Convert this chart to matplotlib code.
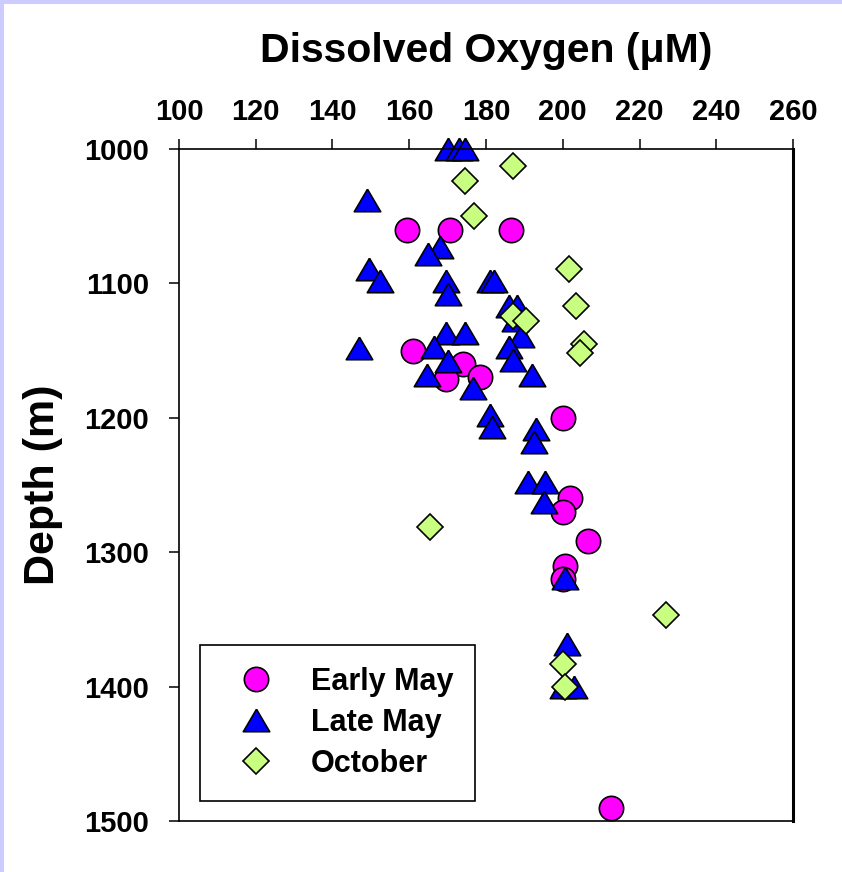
import matplotlib
matplotlib.use("Agg")
import matplotlib.pyplot as plt
from matplotlib.patches import Rectangle

plt.rcParams['font.family'] = ['Liberation Sans', 'DejaVu Sans']
plt.rcParams['font.weight'] = 'bold'

# dissolved oxygen (uM) against depth (m) for the three cruises
early_may_do = [159.5, 170.5, 186.5, 161, 174, 169.5, 178.5, 200, 202, 200,
                206.5, 200.5, 200, 212.5]
early_may_depth = [1060, 1060, 1060, 1150, 1160, 1171, 1170, 1200, 1260, 1270,
                   1292, 1310, 1320, 1490]

late_may_do = [170, 173, 174.5, 149, 168, 165, 149.5, 152.5, 169.5, 181,
               182, 170, 186, 188, 187.5, 169.5, 174.5, 189, 147, 166.5,
               186, 170, 187, 164.5, 192, 176.5, 181, 181.5, 193, 192.5,
               191, 195.5, 195, 200.5, 201, 200, 203]
late_may_depth = [1000, 1000, 1000, 1038, 1073, 1078, 1089, 1098, 1098, 1098,
                  1098, 1108, 1117, 1117, 1127, 1137, 1137, 1139, 1148, 1147,
                  1147, 1158, 1157, 1168, 1168, 1178, 1198, 1207, 1208, 1218,
                  1248, 1248, 1263, 1319, 1368, 1400, 1400]

october_do = [187, 174.5, 177, 201.5, 203.5, 187, 190.5, 205.5, 204.5, 165.5,
              227, 200, 200.5]
october_depth = [1013, 1024, 1050, 1089, 1117, 1124, 1128, 1145, 1152, 1281,
                 1347, 1383, 1400]

x_ticks = [100, 120, 140, 160, 180, 200, 220, 240, 260]
y_ticks = [1000, 1100, 1200, 1300, 1400, 1500]

fig = plt.figure(figsize=(8.42, 8.72), dpi=100)
fig.patch.set_facecolor('white')
# thin lavender strips along the top and left edges
fig.patches.append(Rectangle((0, 0), 4 / 842, 1, transform=fig.transFigure,
                             facecolor='#ccccff', edgecolor='none'))
fig.patches.append(Rectangle((0, 1 - 4 / 872), 1, 4 / 872, transform=fig.transFigure,
                             facecolor='#ccccff', edgecolor='none'))

ax = fig.add_axes([179 / 842, 1 - 821 / 872, 614 / 842, 672 / 872])

tri = [(0, 0.85), (-1, -0.85), (1, -0.85), (0, 0.85)]
ax.plot(early_may_do, early_may_depth, 'o', ms=17.5, mfc='#ff00ff', mec='black',
        mew=1.2, clip_on=False, label='Early May')
ax.plot(late_may_do, late_may_depth, linestyle='none', marker=tri, ms=19,
        mfc='#0000ff', mec='black', mew=1.2, clip_on=False, label='Late May')
ax.plot(october_do, october_depth, 'D', ms=13, mfc='#c8ff80', mec='black',
        mew=1.2, clip_on=False, label='October')

ax.set_xlim(100, 260)
ax.set_ylim(1500, 1000)
ax.set_xticks(x_ticks)
ax.set_yticks(y_ticks)
ax.xaxis.tick_top()
ax.xaxis.set_label_position('top')
ax.tick_params(axis='both', direction='out', length=7.5, width=1.1,
               labelsize=21)
ax.tick_params(axis='x', pad=9)
ax.tick_params(axis='y', pad=14)
for name in ['left', 'top', 'bottom']:
    ax.spines[name].set_linewidth(1.2)
ax.spines['right'].set_linewidth(2.2)

ax.set_xlabel('Dissolved Oxygen (\u03bcM)', fontsize=29.5, fontweight='bold',
              labelpad=26)
ax.set_ylabel('Depth (m)', fontsize=31, fontweight='bold', labelpad=15)

leg = ax.legend(loc='upper left', bbox_to_anchor=(0.0342, 0.2619),
                borderaxespad=0, fontsize=22, numpoints=1, fancybox=False,
                framealpha=1, edgecolor='black', borderpad=0.72,
                labelspacing=0.36, handlelength=2.2, handletextpad=0.7)
leg.get_frame().set_linewidth(1.2)
for t in leg.get_texts():
    t.set_fontweight('bold')

fig.savefig('out.png', dpi=100)
